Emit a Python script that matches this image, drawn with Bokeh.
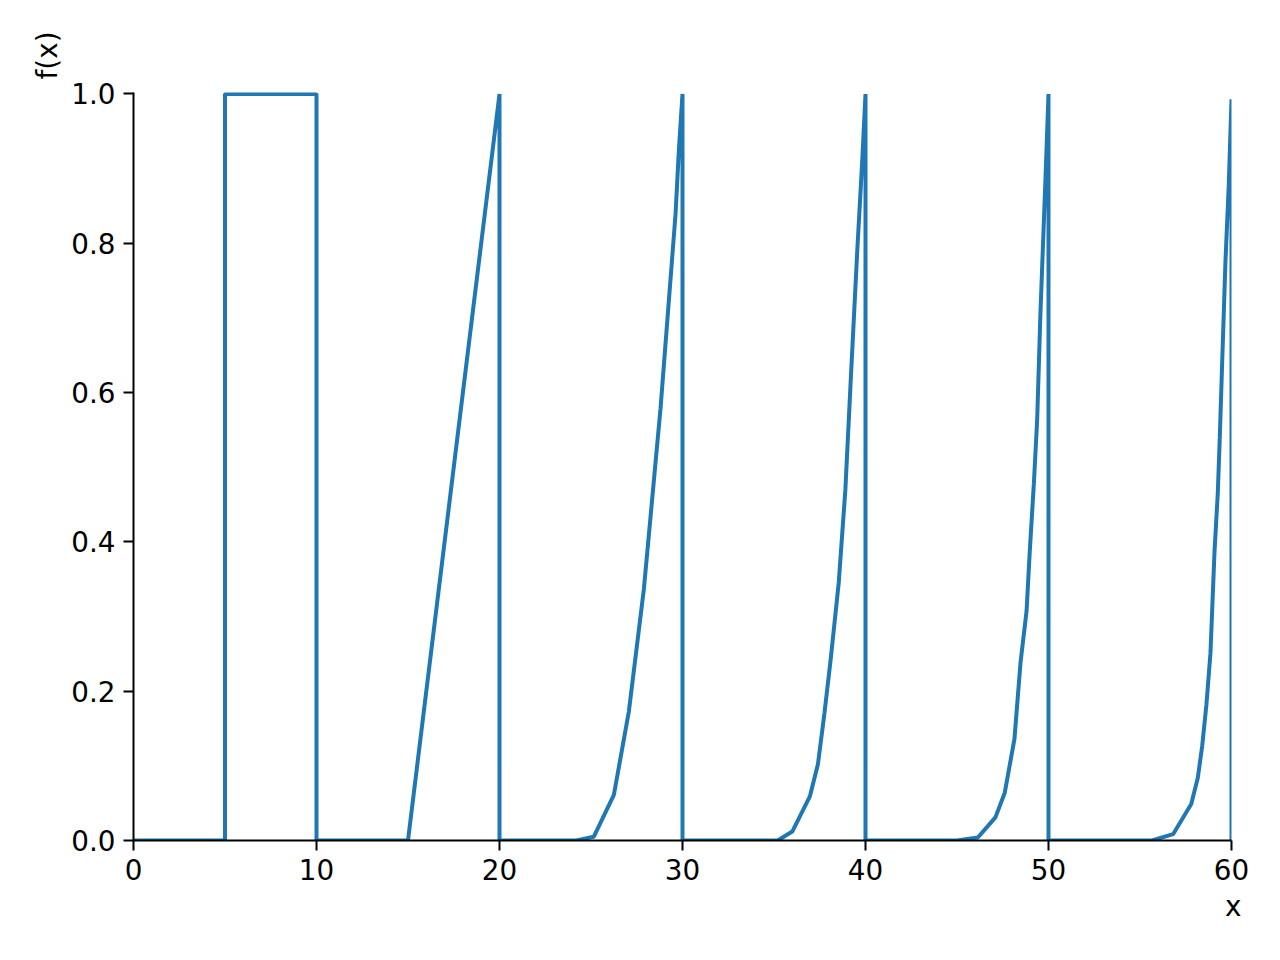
import math
from bokeh.plotting import figure
from bokeh.models import FixedTicker, PrintfTickFormatter, Range1d, Title, ColumnDataSource
from bokeh.embed import file_html
from bokeh.resources import INLINE

xs = [0, 5, 5, 10, 10, 15, 16.2, 17.5, 18.7, 20, 20,
      24.2, 25.15, 26.25, 27.07, 27.89, 28.8, 29.62, 29.8, 30, 30,
      35.2, 36.0, 36.96, 37.4, 37.76, 38.09, 38.54, 38.9, 39.18, 39.55, 39.82, 40, 40,
      45.0, 46.14, 47.1, 47.61, 48.14, 48.47, 48.8, 48.98, 49.2, 49.38, 49.56, 49.84, 50, 50,
      55.66, 56.81, 57.8, 58.16, 58.4, 58.63, 58.85, 59.07, 59.25, 59.36, 59.49, 59.67, 59.85, 60, 60]
ys = [0, 0, 1, 1, 0, 0, 0.24, 0.5, 0.74, 1, 0,
      0, 0.005, 0.061, 0.173, 0.337, 0.579, 0.839, 0.924, 1, 0,
      0, 0.012, 0.059, 0.102, 0.171, 0.241, 0.346, 0.47, 0.61, 0.79, 0.91, 1, 0,
      0, 0.004, 0.031, 0.064, 0.136, 0.238, 0.307, 0.389, 0.478, 0.563, 0.707, 0.89, 1, 0,
      0, 0.0085, 0.049, 0.084, 0.127, 0.182, 0.251, 0.386, 0.465, 0.54, 0.64, 0.776, 0.878, 0.993, 0]

x_ticks = [0, 10, 20, 30, 40, 50, 60]
y_ticks = [0.0, 0.2, 0.4, 0.6, 0.8, 1.0]

FONT = "DejaVu Sans"
FS = "27.8px"

p = figure(width=1264, height=944, frame_width=1098, frame_height=748,
           min_border_left=133, min_border_right=33, min_border_top=92, min_border_bottom=104,
           x_range=Range1d(0, 60), y_range=Range1d(0, 1.002),
           output_backend="svg", toolbar_location=None)

src = ColumnDataSource(dict(x=xs, y=ys))
p.line("x", "y", source=src, line_color="#1f77b4", line_width=4)

p.outline_line_color = None
p.xgrid.visible = False
p.ygrid.visible = False
p.background_fill_color = "white"
p.border_fill_color = "white"

for ax in (p.xaxis[0], p.yaxis[0]):
    ax.axis_line_width = 2
    ax.axis_line_color = "black"
    ax.major_tick_line_width = 2
    ax.major_tick_line_color = "black"
    ax.major_tick_out = 10
    ax.major_tick_in = 0
    ax.minor_tick_out = 0
    ax.minor_tick_in = 0
    ax.major_label_text_font = FONT
    ax.major_label_text_font_size = FS
    ax.major_label_text_color = "black"
    ax.major_label_standoff = 8

p.xaxis[0].ticker = FixedTicker(ticks=x_ticks)
p.yaxis[0].ticker = FixedTicker(ticks=y_ticks)
p.xaxis[0].formatter = PrintfTickFormatter(format="%d")
p.yaxis[0].formatter = PrintfTickFormatter(format="%.1f")

p.add_layout(Title(text="x", align="right", offset=-10, standoff=11,
                   text_font=FONT, text_font_size=FS, text_font_style="normal",
                   text_color="black"), "below")
p.add_layout(Title(text="f(x)", align="right", offset=-61, standoff=9,
                   text_font=FONT, text_font_size=FS, text_font_style="normal",
                   text_color="black"), "left")

open("out.html", "w").write(file_html(p, INLINE))
